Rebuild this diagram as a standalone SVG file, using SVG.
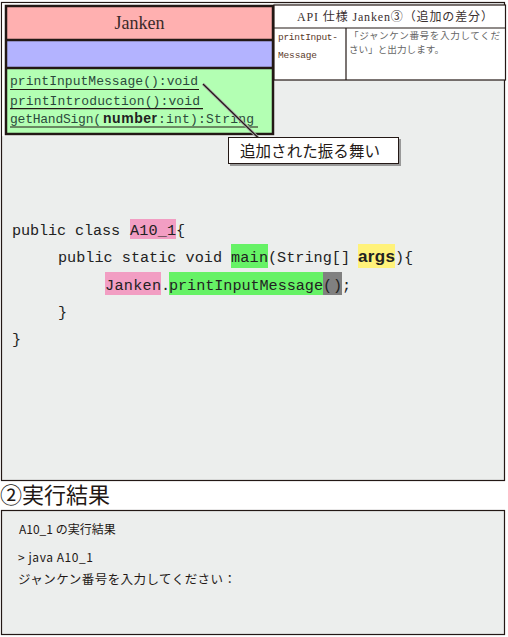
<svg xmlns="http://www.w3.org/2000/svg" width="508" height="637" viewBox="0 0 508 637">
<style>
.panel{fill:#eceeed;stroke:#231815;stroke-width:1.2}
.code{font-family:"Liberation Mono","DejaVu Sans Mono",monospace;font-size:15.2px;fill:#222}
.meth{font-family:"Liberation Mono",monospace;font-size:13px;fill:#2c4a3c}
.ul{stroke:#231815;stroke-width:1.2}
.jp{font-family:"Noto Sans CJK JP",sans-serif;fill:#231815}
.tbl{fill:#fff;stroke:#231815;stroke-width:1.2}
.tt{font-family:"Liberation Serif","Noto Sans CJK JP",serif;fill:#3a3030}
</style>
<rect width="508" height="637" fill="#fff"/>
<g id="code-panel">
<rect class="panel" x="1.5" y="2.5" width="503" height="478"/>
<rect x="2.2" y="3.2" width="272" height="133" fill="#fff"/>
<rect x="130" y="219" width="46" height="20" fill="#f29ec3"/>
<rect x="231" y="244" width="37" height="24" fill="#66f266"/>
<rect x="358" y="244" width="37" height="24" fill="#fff27a"/>
<rect x="105" y="272" width="56" height="23" fill="#f29ec3"/>
<rect x="169" y="272" width="154" height="23" fill="#66f266"/>
<rect x="323" y="272" width="19" height="23" fill="#808080"/>
<text class="code" x="12" y="235" textLength="108">public class</text>
<text class="code" x="130" y="235" textLength="46">A10_1</text>
<text class="code" x="176" y="235">{</text>
<text class="code" x="58" y="262" textLength="164">public static void</text>
<text class="code" x="231" y="262" textLength="37">main</text>
<text class="code" x="268" y="262" textLength="82">(String[]</text>
<text x="358" y="262" font-family="Liberation Sans,sans-serif" font-weight="bold" font-size="17" fill="#222" textLength="37">args</text>
<text class="code" x="395" y="262">){</text>
<text class="code" x="105" y="290" textLength="56">Janken</text>
<text class="code" x="161" y="290">.</text>
<text class="code" x="169" y="290" textLength="154">printInputMessage</text>
<text class="code" x="323" y="290" textLength="19">()</text>
<text class="code" x="342" y="290">;</text>
<text class="code" x="58" y="317">}</text>
<text class="code" x="12" y="344">}</text>
</g>
<g id="class-janken">
<rect x="6" y="6" width="267" height="34" fill="#ffb0b0"/>
<rect x="6" y="40" width="267" height="28" fill="#b3b3ff"/>
<rect x="6" y="68" width="267" height="66" fill="#b3ffb3"/>
<rect x="6" y="6" width="267" height="128" fill="none" stroke="#231815" stroke-width="2.5"/>
<line x1="6" y1="40" x2="273" y2="40" stroke="#231815" stroke-width="2.5"/>
<line x1="6" y1="68" x2="273" y2="68" stroke="#231815" stroke-width="2.5"/>
<text x="139.5" y="29" text-anchor="middle" font-family="Liberation Serif,serif" font-size="18" fill="#3a2a2a">Janken</text>
<text class="meth" x="10" y="85" textLength="188">printInputMessage():void</text>
<line class="ul" x1="10" y1="89.5" x2="199" y2="89.5"/>
<text class="meth" x="10" y="105" textLength="190">printIntroduction():void</text>
<line class="ul" x1="10" y1="108.7" x2="203" y2="108.7"/>
<text class="meth" x="10" y="123" textLength="91">getHandSign(</text>
<text x="103" y="123" font-family="Liberation Sans,sans-serif" font-weight="bold" font-size="14" fill="#222" textLength="54">number</text>
<text class="meth" x="158" y="123" textLength="96">:int):String</text>
<line class="ul" x1="10" y1="127" x2="258" y2="127"/>
</g>
<g id="api-table">
<rect class="tbl" x="274" y="5" width="231.5" height="75"/>
<line x1="274" y1="28" x2="505.5" y2="28" stroke="#231815" stroke-width="1.2"/>
<line x1="346" y1="28" x2="346" y2="80" stroke="#231815" stroke-width="1.2"/>
<text class="tt" x="297" y="21" font-size="12" textLength="196">API 仕様 Janken③（追加の差分）</text>
<text x="278" y="40" font-family="Liberation Mono,monospace" font-size="9.5" fill="#5a3a2a" textLength="60">printInput-</text>
<text x="278" y="58" font-family="Liberation Mono,monospace" font-size="9.5" fill="#5a3a2a" textLength="39">Message</text>
<text class="jp" x="349" y="39" font-size="9.6" textLength="151" style="fill:#666">「ジャンケン番号を入力してくだ</text>
<text class="jp" x="349" y="53" font-size="9.6" style="fill:#666">さい」と出力します。</text>
</g>
<g id="connectors">
<line x1="203" y1="84" x2="258" y2="137.5" stroke="#aaa" stroke-width="3"/>
<line x1="203" y1="84" x2="258" y2="137.5" stroke="#231815" stroke-width="1.2"/>
</g>
<g id="callout">
<rect x="230" y="139" width="171" height="27" fill="#999"/>
<rect x="228.5" y="137.5" width="170" height="26" fill="#fff" stroke="#231815" stroke-width="1"/>
<text class="jp" x="240" y="157" font-size="15.5" textLength="140">追加された振る舞い</text>
</g>
<g id="heading">
<text class="jp" x="0" y="503" font-size="22">②実行結果</text>
</g>
<g id="result-panel">
<rect class="panel" x="1.5" y="510.5" width="503" height="124"/>
<text class="jp" x="19" y="534" font-size="12">A10_1 の実行結果</text>
<text class="jp" x="18" y="562" font-size="12" textLength="75">&gt; java A10_1</text>
<text class="jp" x="18" y="584" font-size="12.5" textLength="218">ジャンケン番号を入力してください：</text>
</g>
</svg>
